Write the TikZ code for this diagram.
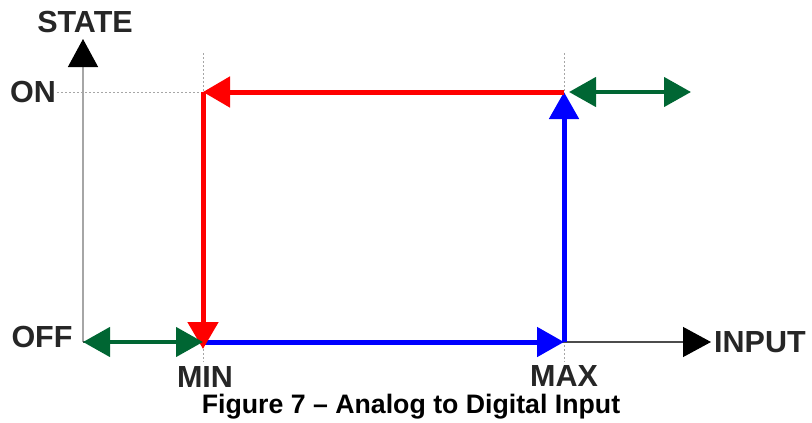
\documentclass[tikz,border=0pt]{standalone}
\usepackage{fontspec}
\setmainfont{Liberation Sans}
\usepackage{tikz}
\usetikzlibrary{arrows.meta,positioning}
\definecolor{darkgreen}{rgb}{0,0.4,0.2}
\tikzset{
    axis/.style={draw=gray!70, line width=1.3pt, -{Triangle[length=28pt,width=30pt,fill=black,color=black]}},
    guide/.style={draw=gray!70, line width=1pt, dash pattern=on 2pt off 2pt},
    label/.style={font=\fontsize{30.5}{32}\selectfont\bfseries, text=black!85, inner sep=0pt},
    redpath/.style={draw=red, line width=5pt, -{Triangle[length=27pt,width=30pt]}},
    bluepath/.style={draw=blue, line width=5pt, -{Triangle[length=27pt,width=29pt]}},
    band/.style={draw=darkgreen, line width=4.5pt, {Triangle[length=27pt,width=29pt]}-{Triangle[length=27pt,width=29pt]}},
}
\begin{document}
\begin{tikzpicture}[x=1pt,y=-1pt]
\useasboundingbox (0,0) rectangle (812,423);
  \coordinate (origin) at (83,342);
  \coordinate (ytop) at (83,39);
  \coordinate (xend) at (711,342);
  \coordinate (minoff) at (203,342);
  \coordinate (maxoff) at (564,342);
  \coordinate (minon) at (203,92);
  \coordinate (maxon) at (564,92);
  \coordinate (onleft) at (57,92);
  \coordinate (mintop) at (203,53);
  \coordinate (minbot) at (203,362);
  \coordinate (maxtop) at (564,53);
  \coordinate (maxbot) at (564,362);
  \coordinate (bandstart) at (569,92);
  \coordinate (bandend) at (691,92);
  % guides
  \path[guide] (onleft) -- (minon);
  \path[guide] (mintop) -- (minbot);
  \path[guide] (maxtop) -- (maxbot);
  % axes
  \path[axis] (origin) -- (ytop);
  \path[axis,draw=black!70] (origin) -- (xend);
  \node[label] (state) at (85,22) {STATE};
  \node[label] (on) at (33,92) {ON};
  \node[label] (off) at (42,337) {OFF};
  \node[label,right=3pt of xend] (input) {INPUT};
  \node[label] (min) at (205,377) {MIN};
  \node[label] (max) at (564,376) {MAX};
  % hysteresis loop
  \path[bluepath] (minoff) -- (maxoff);
  \path[bluepath] (maxoff) -- (maxon);
  \path[redpath] (maxon) -- (minon);
  \path[redpath] (minon) -- ([yshift=-7pt]minoff);
  \path[band] (origin) -- (minoff);
  \path[band] (bandstart) -- (bandend);
  \node[font=\fontsize{26.7}{28}\selectfont\bfseries, inner sep=0pt] (caption) at (411,407) {Figure 7 – Analog to Digital Input};
\end{tikzpicture}
\end{document}
